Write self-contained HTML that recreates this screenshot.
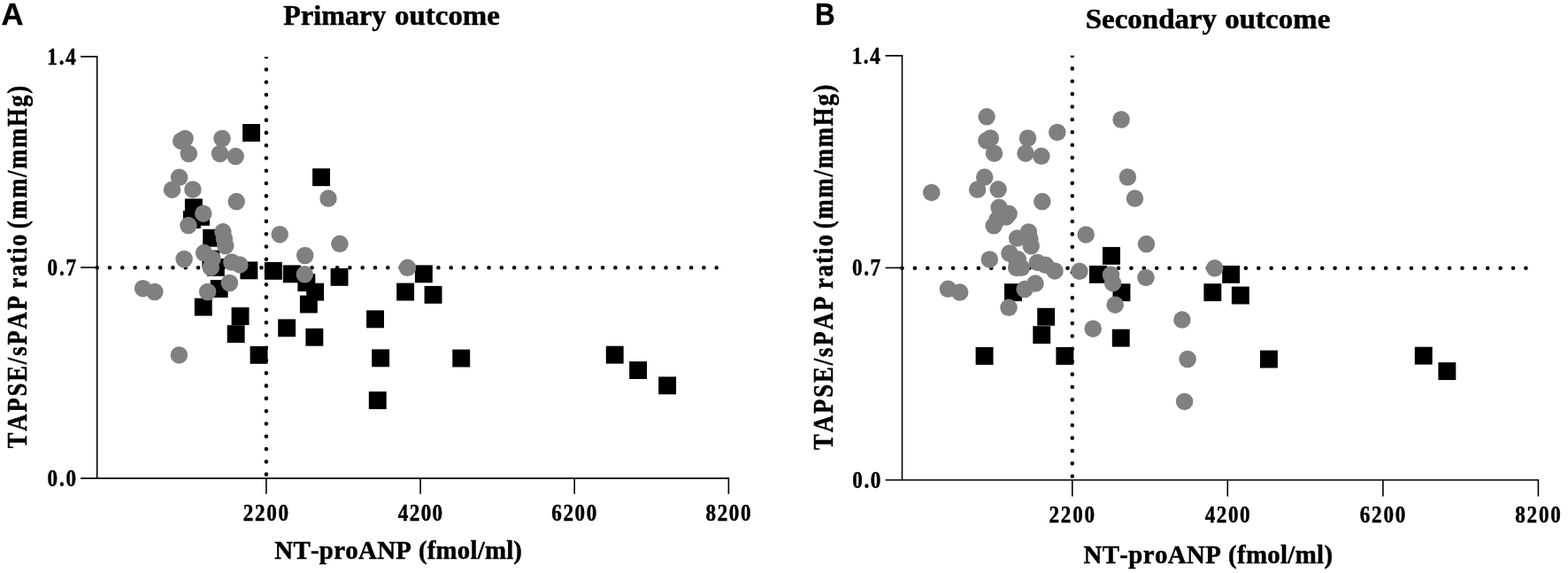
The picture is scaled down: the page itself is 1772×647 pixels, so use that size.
<!DOCTYPE html>
<html lang="en">
<head>
<meta charset="utf-8">
<title>TAPSE/sPAP ratio vs NT-proANP</title>
<style>
html,body{margin:0;padding:0;background:#fff;}
body{width:1772px;height:647px;overflow:hidden;}
svg{display:block;}
.ser{font-family:"Liberation Serif","Times New Roman",serif;font-weight:bold;fill:#000;stroke:#000;stroke-width:0.5;stroke-linejoin:round;font-kerning:none;}
.san{font-family:"Liberation Sans",Arial,sans-serif;font-weight:bold;fill:#000;stroke:#000;stroke-width:0.4;stroke-linejoin:round;}
.ax{stroke:#000;stroke-width:1.6;fill:none;}
.dot{stroke:#000;stroke-width:4.6;stroke-linecap:round;fill:none;}
</style>
</head>
<body>
<svg width="1772" height="647" viewBox="0 0 1772 647">
<rect x="0" y="0" width="1772" height="647" fill="#ffffff"/>

<g id="panel-a">
<clipPath id="clip-a"><rect x="290.9" y="64.3" width="20" height="475.8"/></clipPath>
<path class="dot" clip-path="url(#clip-a)" stroke-dasharray="0 14.286" d="M300.9 64.2 V537.6"/>
<path class="dot" stroke-dasharray="0 14.286" d="M109.7 302.3 H821.4"/>
<path class="ax" d="M91.1 63.9 H109.7 V540.1"/>
<path class="ax" d="M91.1 540.1 H823.4 V557.8"/>
<path class="ax" d="M91.1 302.0 H109.7"/>
<path class="ax" d="M300.9 540.1 V557.8"/>
<path class="ax" d="M475.1 540.1 V557.8"/>
<path class="ax" d="M649.2 540.1 V557.8"/>
<rect x="274.1" y="140.0" width="19.9" height="19.9" fill="#000"/>
<rect x="353.1" y="190.2" width="19.9" height="19.9" fill="#000"/>
<rect x="208.9" y="224.4" width="19.9" height="19.9" fill="#000"/>
<rect x="206.9" y="238.0" width="19.9" height="19.9" fill="#000"/>
<rect x="217.0" y="234.9" width="19.9" height="19.9" fill="#000"/>
<rect x="229.2" y="258.8" width="19.9" height="19.9" fill="#000"/>
<rect x="228.4" y="282.6" width="19.9" height="19.9" fill="#000"/>
<rect x="233.9" y="291.9" width="19.9" height="19.9" fill="#000"/>
<rect x="271.4" y="295.4" width="19.9" height="19.9" fill="#000"/>
<rect x="298.9" y="295.9" width="19.9" height="19.9" fill="#000"/>
<rect x="237.7" y="316.1" width="19.9" height="19.9" fill="#000"/>
<rect x="219.8" y="336.7" width="19.9" height="19.9" fill="#000"/>
<rect x="261.6" y="347.1" width="19.9" height="19.9" fill="#000"/>
<rect x="256.7" y="367.2" width="19.9" height="19.9" fill="#000"/>
<rect x="282.6" y="390.9" width="19.9" height="19.9" fill="#000"/>
<rect x="319.8" y="299.4" width="19.9" height="19.9" fill="#000"/>
<rect x="373.6" y="302.9" width="19.9" height="19.9" fill="#000"/>
<rect x="336.4" y="309.2" width="19.9" height="19.9" fill="#000"/>
<rect x="346.2" y="319.7" width="19.9" height="19.9" fill="#000"/>
<rect x="338.9" y="333.6" width="19.9" height="19.9" fill="#000"/>
<rect x="314.2" y="360.4" width="19.9" height="19.9" fill="#000"/>
<rect x="345.4" y="370.8" width="19.9" height="19.9" fill="#000"/>
<rect x="414.1" y="350.4" width="19.9" height="19.9" fill="#000"/>
<rect x="420.2" y="394.4" width="19.9" height="19.9" fill="#000"/>
<rect x="416.8" y="442.1" width="19.9" height="19.9" fill="#000"/>
<rect x="468.9" y="299.4" width="19.9" height="19.9" fill="#000"/>
<rect x="448.2" y="319.6" width="19.9" height="19.9" fill="#000"/>
<rect x="479.6" y="322.9" width="19.9" height="19.9" fill="#000"/>
<rect x="511.3" y="394.6" width="19.9" height="19.9" fill="#000"/>
<rect x="684.8" y="390.7" width="19.9" height="19.9" fill="#000"/>
<rect x="711.2" y="408.1" width="19.9" height="19.9" fill="#000"/>
<rect x="744.2" y="425.4" width="19.9" height="19.9" fill="#000"/>
<circle cx="209.1" cy="156.4" r="9.75" fill="#808080"/>
<circle cx="204.7" cy="159.2" r="9.75" fill="#808080"/>
<circle cx="213.3" cy="173.5" r="9.75" fill="#808080"/>
<circle cx="251.0" cy="156.4" r="9.75" fill="#808080"/>
<circle cx="248.5" cy="173.5" r="9.75" fill="#808080"/>
<circle cx="266.2" cy="176.6" r="9.75" fill="#808080"/>
<circle cx="202.6" cy="200.3" r="9.75" fill="#808080"/>
<circle cx="194.5" cy="214.2" r="9.75" fill="#808080"/>
<circle cx="217.9" cy="213.9" r="9.75" fill="#808080"/>
<circle cx="267.2" cy="227.6" r="9.75" fill="#808080"/>
<circle cx="229.8" cy="241.2" r="9.75" fill="#808080"/>
<circle cx="212.9" cy="254.6" r="9.75" fill="#808080"/>
<circle cx="251.9" cy="261.8" r="9.75" fill="#808080"/>
<circle cx="254.7" cy="277.5" r="9.75" fill="#808080"/>
<circle cx="208.1" cy="292.5" r="9.75" fill="#808080"/>
<circle cx="230.6" cy="285.6" r="9.75" fill="#808080"/>
<circle cx="240.0" cy="292.4" r="9.75" fill="#808080"/>
<circle cx="238.3" cy="302.0" r="9.75" fill="#808080"/>
<circle cx="261.8" cy="296.0" r="9.75" fill="#808080"/>
<circle cx="270.9" cy="298.9" r="9.75" fill="#808080"/>
<circle cx="259.4" cy="319.5" r="9.75" fill="#808080"/>
<circle cx="234.6" cy="329.5" r="9.75" fill="#808080"/>
<circle cx="161.6" cy="325.7" r="9.75" fill="#808080"/>
<circle cx="174.8" cy="329.5" r="9.75" fill="#808080"/>
<circle cx="202.4" cy="400.9" r="9.75" fill="#808080"/>
<circle cx="316.2" cy="264.7" r="9.75" fill="#808080"/>
<circle cx="383.9" cy="275.3" r="9.75" fill="#808080"/>
<circle cx="344.7" cy="288.5" r="9.75" fill="#808080"/>
<circle cx="344.3" cy="309.8" r="9.75" fill="#808080"/>
<circle cx="371.0" cy="224.1" r="9.75" fill="#808080"/>
<circle cx="460.5" cy="302.3" r="9.75" fill="#808080"/>
<circle cx="253.4" cy="269.6" r="9.75" fill="#808080"/>
<text class="san" transform="translate(1.45 28.00)" font-size="34.2" textLength="24.96" lengthAdjust="spacingAndGlyphs">A</text>
<text class="ser" transform="translate(320.35 27.50)" font-size="32.2" textLength="116.02" lengthAdjust="spacingAndGlyphs">Primary</text>
<text class="ser" transform="translate(446.10 27.50)" font-size="32.2" textLength="118.77" lengthAdjust="spacingAndGlyphs">outcome</text>
<text class="ser" transform="translate(53.35 72.80) scale(0.88 1)" font-size="26.3" textLength="36.93" lengthAdjust="spacing">1.4</text>
<text class="ser" transform="translate(53.45 310.90) scale(0.88 1)" font-size="26.3" textLength="37.22" lengthAdjust="spacing">0.7</text>
<text class="ser" transform="translate(53.45 549.00) scale(0.88 1)" font-size="26.3" textLength="37.22" lengthAdjust="spacing">0.0</text>
<text class="ser" transform="translate(274.75 588.20) scale(0.88 1)" font-size="26.3" textLength="58.24" lengthAdjust="spacing">2200</text>
<text class="ser" transform="translate(449.70 588.20) scale(0.88 1)" font-size="26.3" textLength="57.39" lengthAdjust="spacing">4200</text>
<text class="ser" transform="translate(623.30 588.20) scale(0.88 1)" font-size="26.3" textLength="57.95" lengthAdjust="spacing">6200</text>
<text class="ser" transform="translate(797.50 588.20) scale(0.88 1)" font-size="26.3" textLength="57.95" lengthAdjust="spacing">8200</text>
<text class="ser" transform="translate(310.25 630.70) scale(0.95 1)" font-size="30.4" textLength="162.89" lengthAdjust="spacing">NT-proANP</text>
<text class="ser" transform="translate(473.00 630.70) scale(0.95 1)" font-size="30.4" textLength="123.14" lengthAdjust="spacing">(fmol/ml)</text>
<text class="ser" transform="translate(30.20 506.35) rotate(-90) scale(0.87 1)" font-size="30.6" textLength="197.99" lengthAdjust="spacing">TAPSE/sPAP</text>
<text class="ser" transform="translate(30.20 325.60) rotate(-90) scale(0.87 1)" font-size="30.6" textLength="70.11" lengthAdjust="spacing">ratio</text>
<text class="ser" transform="translate(30.20 258.30) rotate(-90) scale(0.87 1)" font-size="30.6" textLength="185.63" lengthAdjust="spacing">(mm/mmHg)</text>
</g>
<g id="panel-b">
<clipPath id="clip-b"><rect x="1201.8" y="62.7" width="20" height="479.3"/></clipPath>
<path class="dot" clip-path="url(#clip-b)" stroke-dasharray="0 14.386" d="M1211.8 63.0 V539.5"/>
<path class="dot" stroke-dasharray="0 14.386" d="M1019.5 302.8 H1736.4"/>
<path class="ax" d="M1000.6 62.9 H1019.5 V542.0"/>
<path class="ax" d="M1000.6 542.0 H1738.4 V560.5"/>
<path class="ax" d="M1000.6 302.4 H1019.5"/>
<path class="ax" d="M1211.8 542.0 V560.5"/>
<path class="ax" d="M1387.3 542.0 V560.5"/>
<path class="ax" d="M1562.9 542.0 V560.5"/>
<rect x="1135.0" y="320.2" width="19.9" height="19.9" fill="#000"/>
<rect x="1102.6" y="392.0" width="19.9" height="19.9" fill="#000"/>
<rect x="1246.0" y="278.9" width="19.9" height="19.9" fill="#000"/>
<rect x="1172.2" y="347.8" width="19.9" height="19.9" fill="#000"/>
<rect x="1167.3" y="368.2" width="19.9" height="19.9" fill="#000"/>
<rect x="1193.4" y="392.0" width="19.9" height="19.9" fill="#000"/>
<rect x="1230.9" y="299.9" width="19.9" height="19.9" fill="#000"/>
<rect x="1257.5" y="320.3" width="19.9" height="19.9" fill="#000"/>
<rect x="1256.8" y="371.7" width="19.9" height="19.9" fill="#000"/>
<rect x="1381.2" y="299.9" width="19.9" height="19.9" fill="#000"/>
<rect x="1360.4" y="320.2" width="19.9" height="19.9" fill="#000"/>
<rect x="1391.9" y="323.6" width="19.9" height="19.9" fill="#000"/>
<rect x="1424.0" y="395.6" width="19.9" height="19.9" fill="#000"/>
<rect x="1598.8" y="391.7" width="19.9" height="19.9" fill="#000"/>
<rect x="1625.4" y="409.2" width="19.9" height="19.9" fill="#000"/>
<circle cx="1119.3" cy="156.0" r="9.75" fill="#808080"/>
<circle cx="1114.8" cy="158.8" r="9.75" fill="#808080"/>
<circle cx="1123.5" cy="173.2" r="9.75" fill="#808080"/>
<circle cx="1161.5" cy="156.0" r="9.75" fill="#808080"/>
<circle cx="1159.0" cy="173.2" r="9.75" fill="#808080"/>
<circle cx="1176.8" cy="176.3" r="9.75" fill="#808080"/>
<circle cx="1112.7" cy="200.1" r="9.75" fill="#808080"/>
<circle cx="1104.6" cy="214.1" r="9.75" fill="#808080"/>
<circle cx="1128.1" cy="213.8" r="9.75" fill="#808080"/>
<circle cx="1177.8" cy="227.6" r="9.75" fill="#808080"/>
<circle cx="1140.1" cy="241.3" r="9.75" fill="#808080"/>
<circle cx="1123.1" cy="254.8" r="9.75" fill="#808080"/>
<circle cx="1162.4" cy="262.0" r="9.75" fill="#808080"/>
<circle cx="1165.2" cy="277.8" r="9.75" fill="#808080"/>
<circle cx="1118.3" cy="292.9" r="9.75" fill="#808080"/>
<circle cx="1140.9" cy="286.0" r="9.75" fill="#808080"/>
<circle cx="1150.4" cy="292.8" r="9.75" fill="#808080"/>
<circle cx="1148.7" cy="302.4" r="9.75" fill="#808080"/>
<circle cx="1172.4" cy="296.4" r="9.75" fill="#808080"/>
<circle cx="1181.6" cy="299.3" r="9.75" fill="#808080"/>
<circle cx="1170.0" cy="320.1" r="9.75" fill="#808080"/>
<circle cx="1071.4" cy="326.3" r="9.75" fill="#808080"/>
<circle cx="1084.7" cy="330.1" r="9.75" fill="#808080"/>
<circle cx="1227.2" cy="264.9" r="9.75" fill="#808080"/>
<circle cx="1295.5" cy="275.6" r="9.75" fill="#808080"/>
<circle cx="1255.5" cy="310.3" r="9.75" fill="#808080"/>
<circle cx="1282.5" cy="224.1" r="9.75" fill="#808080"/>
<circle cx="1372.7" cy="302.8" r="9.75" fill="#808080"/>
<circle cx="1163.9" cy="269.9" r="9.75" fill="#808080"/>
<circle cx="1194.8" cy="149.4" r="9.75" fill="#808080"/>
<circle cx="1274.4" cy="200.0" r="9.75" fill="#808080"/>
<circle cx="1129.1" cy="234.3" r="9.75" fill="#808080"/>
<circle cx="1127.0" cy="248.0" r="9.75" fill="#808080"/>
<circle cx="1137.2" cy="244.9" r="9.75" fill="#808080"/>
<circle cx="1149.6" cy="268.9" r="9.75" fill="#808080"/>
<circle cx="1148.7" cy="292.9" r="9.75" fill="#808080"/>
<circle cx="1154.3" cy="302.3" r="9.75" fill="#808080"/>
<circle cx="1192.0" cy="305.9" r="9.75" fill="#808080"/>
<circle cx="1219.9" cy="306.3" r="9.75" fill="#808080"/>
<circle cx="1158.1" cy="326.6" r="9.75" fill="#808080"/>
<circle cx="1140.0" cy="347.3" r="9.75" fill="#808080"/>
<circle cx="1295.0" cy="313.4" r="9.75" fill="#808080"/>
<circle cx="1257.6" cy="319.7" r="9.75" fill="#808080"/>
<circle cx="1260.2" cy="344.2" r="9.75" fill="#808080"/>
<circle cx="1235.2" cy="371.2" r="9.75" fill="#808080"/>
<circle cx="1335.9" cy="361.1" r="9.75" fill="#808080"/>
<circle cx="1342.1" cy="405.5" r="9.75" fill="#808080"/>
<circle cx="1338.6" cy="453.4" r="9.75" fill="#808080"/>
<circle cx="1052.7" cy="217.4" r="9.75" fill="#808080"/>
<circle cx="1115.1" cy="131.8" r="9.75" fill="#808080"/>
<circle cx="1267.1" cy="135.0" r="9.75" fill="#808080"/>
<text class="san" transform="translate(921.10 28.00)" font-size="34.2" textLength="22.61" lengthAdjust="spacingAndGlyphs">B</text>
<text class="ser" transform="translate(1226.80 32.40)" font-size="32.2" textLength="148.27" lengthAdjust="spacingAndGlyphs">Secondary</text>
<text class="ser" transform="translate(1384.30 32.40)" font-size="32.2" textLength="119.02" lengthAdjust="spacingAndGlyphs">outcome</text>
<text class="ser" transform="translate(962.75 71.90) scale(0.88 1)" font-size="26.3" textLength="36.36" lengthAdjust="spacing">1.4</text>
<text class="ser" transform="translate(963.05 311.30) scale(0.88 1)" font-size="26.3" textLength="36.36" lengthAdjust="spacing">0.7</text>
<text class="ser" transform="translate(963.15 550.90) scale(0.88 1)" font-size="26.3" textLength="36.65" lengthAdjust="spacing">0.0</text>
<text class="ser" transform="translate(1185.45 590.30) scale(0.88 1)" font-size="26.3" textLength="58.81" lengthAdjust="spacing">2200</text>
<text class="ser" transform="translate(1361.70 590.30) scale(0.88 1)" font-size="26.3" textLength="57.95" lengthAdjust="spacing">4200</text>
<text class="ser" transform="translate(1536.80 590.30) scale(0.88 1)" font-size="26.3" textLength="58.52" lengthAdjust="spacing">6200</text>
<text class="ser" transform="translate(1712.30 590.30) scale(0.88 1)" font-size="26.3" textLength="58.52" lengthAdjust="spacing">8200</text>
<text class="ser" transform="translate(1224.45 635.50) scale(0.95 1)" font-size="30.4" textLength="163.68" lengthAdjust="spacing">NT-proANP</text>
<text class="ser" transform="translate(1388.00 635.50) scale(0.95 1)" font-size="30.4" textLength="124.21" lengthAdjust="spacing">(fmol/ml)</text>
<text class="ser" transform="translate(940.50 508.05) rotate(-90) scale(0.87 1)" font-size="30.6" textLength="199.14" lengthAdjust="spacing">TAPSE/sPAP</text>
<text class="ser" transform="translate(940.50 325.90) rotate(-90) scale(0.87 1)" font-size="30.6" textLength="70.11" lengthAdjust="spacing">ratio</text>
<text class="ser" transform="translate(940.50 258.30) rotate(-90) scale(0.87 1)" font-size="30.6" textLength="187.07" lengthAdjust="spacing">(mm/mmHg)</text>
</g>
</svg>
</body>
</html>
